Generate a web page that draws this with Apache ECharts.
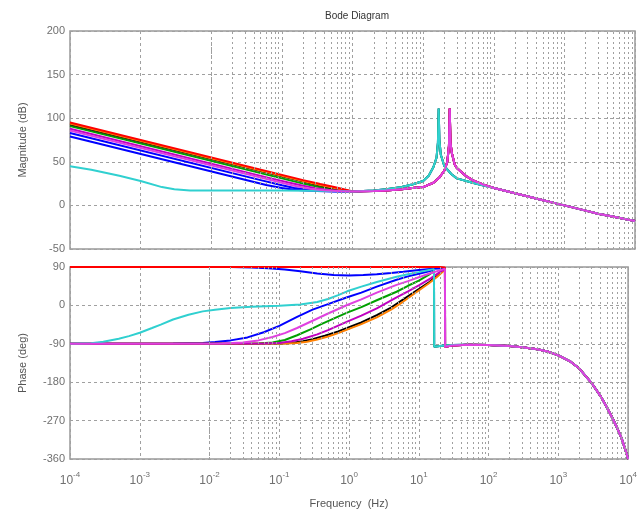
<!DOCTYPE html>
<html>
<head>
<meta charset="utf-8">
<script src="https://cdn.jsdelivr.net/npm/echarts@6/dist/echarts.min.js"></script>
<style>
  html, body { margin: 0; padding: 0; background: #fff; }
  #chart { width: 640px; height: 517px; }
</style>
</head>
<body>
<div id="chart"></div>
<script>
// decade tick values on the frequency axis (Hz)
var decades = [1e-4, 1e-3, 1e-2, 1e-1, 1, 10, 100, 1000, 10000];
var magTicks = [-50, 0, 50, 100, 150, 200];
var phaseTicks = [-360, -270, -180, -90, 0, 90];

// magnitude (dB), shared high-frequency parts
var magTailA = [[1, 16], [2, 17], [3, 18.5], [5, 21], [7, 24], [10, 28], [12, 34], [14, 44], [15.5, 55], [16.2, 72], [16.6, 111], [17, 75], [17.8, 58], [20, 45], [25, 36], [30, 31], [50, 26], [100, 20], [200, 14], [500, 6], [1000, 0], [2000, -6], [3000, -9.5], [5000, -13], [10000, -18]];
var magTailB = [[1, 16], [2, 16.5], [3, 17], [5, 18.5], [7, 20], [10, 21], [14, 26], [17, 32], [20, 40], [22, 50], [23.2, 68], [23.8, 111], [24.4, 72], [25.5, 60], [28, 47], [30, 43], [40, 34], [50, 29], [70, 24], [100, 20], [200, 14], [500, 6], [1000, 0], [2000, -6], [3000, -9.5], [5000, -13], [10000, -18]];

// magnitude (dB), low-frequency parts of each response
var magBlue1 = [[1e-4, 79], [0.03, 29.5], [0.06, 23.5], [0.1, 20], [0.15, 18], [0.25, 16.8], [0.5, 16]];
var magBlue2 = [[1e-4, 83], [0.05, 29], [0.1, 23], [0.15, 20], [0.25, 17.8], [0.4, 16.8], [0.7, 16]];
var magGreen = [[1e-4, 91], [0.1, 31], [0.2, 25], [0.3, 21.8], [0.45, 19], [0.7, 17], [0.9, 16.3]];
var magBlack = [[1e-4, 93], [0.15, 30], [0.3, 24], [0.45, 20.8], [0.65, 18.3], [0.9, 16.5]];
var magOrange = [[1e-4, 94], [0.2, 28], [0.35, 23.5], [0.5, 20.8], [0.7, 18.3], [0.9, 16.5]];
var magRed = [[1e-4, 95], [0.2, 29], [0.35, 24.5], [0.55, 21], [0.75, 18.5], [0.95, 16.5]];
var magMagenta1 = [[1e-4, 88], [0.07, 31], [0.12, 26.5], [0.2, 22.5], [0.3, 19.8], [0.5, 17.5], [0.8, 16.3]];
var magCyan = [[1e-4, 45], [2e-4, 41], [5e-4, 34], [1e-3, 28], [2e-3, 21], [3e-3, 18.5], [5e-3, 17], [0.1, 17], [0.5, 16.5]];
var magMagenta2 = [[1e-4, 86], [0.05, 32], [0.1, 26], [0.15, 22.5], [0.25, 19], [0.4, 17.3], [0.7, 16.3]];

// phase (deg), shared parts after the jump at each resonance
var phaseTailA = [[16.6, -97], [20, -95], [30, -93], [50, -92], [100, -93], [200, -95], [300, -98], [500, -103], [700, -108], [1000, -117], [1500, -132], [2000, -148], [3000, -182], [4000, -212], [5000, -240], [6000, -265], [7000, -288], [8000, -310], [9000, -335], [10000, -360]];
var phaseTailB = [[23.8, -97], [30, -94], [50, -92], [100, -93], [200, -95], [300, -98], [500, -103], [700, -108], [1000, -117], [1500, -132], [2000, -148], [3000, -182], [4000, -212], [5000, -240], [6000, -265], [7000, -288], [8000, -310], [9000, -335], [10000, -360]];

// phase (deg), parts before the jump
var phBlue1 = [[1e-4, -90], [0.003, -89.5], [0.008, -88], [0.012, -86], [0.02, -82], [0.035, -75], [0.06, -63], [0.1, -48], [0.18, -27], [0.3, -10], [0.5, 3], [0.94, 19], [1.5, 30], [2.5, 44], [4.8, 60], [7, 68], [10, 74], [14, 80], [16.5, 84]];
var phBlue2 = [[1e-4, 90], [0.02, 90], [0.04, 89], [0.07, 87], [0.12, 84], [0.2, 80], [0.35, 75], [0.6, 71], [1, 70], [1.6, 71], [2.5, 73], [4, 76], [6, 79], [10, 83], [16, 86], [23.7, 87]];
var phGreen = [[1e-4, -90], [0.05, -89.5], [0.08, -87], [0.12, -81], [0.18, -70], [0.28, -56], [0.4, -44], [0.6, -31], [0.94, -17], [1.5, -4], [2.5, 12], [4.8, 32], [7, 46], [10, 58], [14, 72], [16.5, 80]];
var phBlack = [[1e-4, -90], [0.1, -89.5], [0.15, -88], [0.22, -84], [0.3, -79], [0.45, -71], [0.7, -61], [1, -51], [1.5, -40], [2.5, -23], [4, -5], [6, 14], [10, 38], [14, 54], [18, 68], [21, 78], [23.7, 84]];
var phOrange = [[1e-4, -90], [0.12, -89.5], [0.18, -88], [0.25, -85], [0.35, -80], [0.5, -73], [0.7, -65], [1, -55], [1.5, -44], [2.5, -28], [4, -10], [6, 9], [10, 35], [14, 52], [18, 66], [21, 76], [23.7, 84]];
var phRed = [[1e-4, 90], [10, 90], [20, 90], [23.7, 89]];
var phMagenta1 = [[1e-4, -90], [0.06, -89.5], [0.1, -88], [0.15, -84], [0.22, -78], [0.35, -68], [0.5, -58], [0.94, -38], [1.5, -24], [2.5, -7], [4.8, 19], [7, 33], [10, 47], [15, 64], [20, 78], [23.7, 85]];
var phCyan = [[1e-4, -90], [2e-4, -88.5], [3e-4, -85], [5e-4, -78], [7e-4, -72], [1e-3, -64], [1.5e-3, -53], [2e-3, -45], [3e-3, -33], [5e-3, -22], [8e-3, -14], [0.012, -10], [0.02, -6], [0.04, -3], [0.1, -1], [0.2, 2], [0.35, 8], [0.5, 15], [0.7, 24], [0.94, 33], [1.5, 44], [2.5, 55], [4.8, 67], [7, 73], [10, 78], [14, 83], [16.5, 85]];
var phMagenta2 = [[1e-4, -90], [0.015, -89.5], [0.03, -87], [0.05, -82], [0.08, -74], [0.12, -65], [0.18, -53], [0.3, -36], [0.5, -19], [0.94, 1], [1.5, 14], [2.5, 30], [4.8, 48], [7, 57], [10, 66], [15, 76], [20, 82], [23.7, 86]];

var curves = [
  { color: '#0000ff', mag: magBlue1.concat(magTailA), ph: phBlue1.concat(phaseTailA) },
  { color: '#0000ff', mag: magBlue2.concat(magTailB), ph: phBlue2.concat(phaseTailB) },
  { color: '#00a000', mag: magGreen.concat(magTailA), ph: phGreen.concat(phaseTailA) },
  { color: '#000000', mag: magBlack.concat(magTailB), ph: phBlack.concat(phaseTailB) },
  { color: '#ff8000', mag: magOrange.concat(magTailB), ph: phOrange.concat(phaseTailB) },
  { color: '#ff0000', mag: magRed.concat(magTailB), ph: phRed.concat(phaseTailB) },
  { color: '#c000c0', mag: magMagenta1.concat(magTailB), ph: phMagenta1.concat(phaseTailB) },
  { color: '#30d0d0', mag: magCyan.concat(magTailA), ph: phCyan.concat(phaseTailA) },
  { color: '#e040e0', mag: magMagenta2.concat(magTailB), ph: phMagenta2.concat(phaseTailB) }
];

// minor grid positions 2..9 in each decade
var minorFreqs = [];
for (var d = 0; d < decades.length - 1; d++) {
  for (var k = 2; k <= 9; k++) minorFreqs.push(k * decades[d]);
}

var gridColor = '#a0a0a0';
var labelColor = '#707070';
var fontFam = 'Liberation Sans, Arial, sans-serif';

function xAxisFor(idx, showLabels) {
  return {
    type: 'log', logBase: 10, gridIndex: idx, min: 1e-4, max: 1e4,
    axisLine: { show: false },
    axisTick: { show: false },
    splitLine: { show: true, lineStyle: { color: gridColor, type: [3, 3], width: 1 } },
    axisLabel: {
      show: showLabels, margin: 8, color: labelColor, fontFamily: fontFam,
      formatter: function (v) {
        var e = Math.round(Math.log(v) / Math.LN10);
        return '{b|10}{e|' + e + '}';
      },
      rich: {
        b: { fontSize: 12, color: labelColor, fontFamily: fontFam, padding: [8, 0, 0, 0] },
        e: { fontSize: 8, color: labelColor, fontFamily: fontFam, padding: [0, 0, 4, 0] }
      }
    },
    name: showLabels ? 'Frequency  (Hz)' : '',
    nameLocation: 'middle', nameGap: 39,
    nameTextStyle: { fontSize: 11, color: '#555', fontFamily: fontFam }
  };
}

function yAxisFor(idx, name, min, max, step) {
  return {
    type: 'value', gridIndex: idx, min: min, max: max, interval: step,
    axisLine: { show: false },
    axisTick: { show: false },
    splitLine: { show: true, lineStyle: { color: gridColor, type: [3, 3], width: 1 } },
    axisLabel: { color: labelColor, fontSize: 11, fontFamily: fontFam, margin: 5 },
    name: name, nameLocation: 'middle', nameGap: 42,
    nameTextStyle: { fontSize: 11, color: '#555', fontFamily: fontFam }
  };
}

var series = [];
[0, 1].forEach(function (g) {
  series.push({
    type: 'line', xAxisIndex: g, yAxisIndex: g, data: [], silent: true,
    markLine: {
      silent: true, symbol: 'none', animation: false,
      label: { show: false },
      lineStyle: { color: gridColor, type: [2, 3], width: 1 },
      data: minorFreqs.map(function (f) { return { xAxis: f }; })
    }
  });
});
curves.forEach(function (c) {
  series.push({
    type: 'line', xAxisIndex: 0, yAxisIndex: 0, data: c.mag,
    showSymbol: false, smooth: false,
    lineStyle: { color: c.color, width: 2 }, itemStyle: { color: c.color }
  });
  series.push({
    type: 'line', xAxisIndex: 1, yAxisIndex: 1, data: c.ph,
    showSymbol: false, smooth: false,
    lineStyle: { color: c.color, width: 2 }, itemStyle: { color: c.color }
  });
});

var chart = echarts.init(document.getElementById('chart'));
chart.setOption({
  animation: false,
  backgroundColor: '#fff',
  title: {
    text: 'Bode Diagram', left: 352, top: 6, textAlign: 'center',
    textStyle: { fontSize: 10, fontWeight: 'normal', color: '#333', fontFamily: fontFam }
  },
  grid: [
    { left: 70, top: 31, width: 565, height: 218, show: true, borderColor: '#999', borderWidth: 1.5, backgroundColor: 'transparent' },
    { left: 70, top: 267, width: 565, height: 192, show: true, borderColor: '#999', borderWidth: 1.5, backgroundColor: 'transparent' }
  ],
  xAxis: [xAxisFor(0, false), xAxisFor(1, true)],
  yAxis: [
    yAxisFor(0, 'Magnitude (dB)', magTicks[0], magTicks[magTicks.length - 1], 50),
    yAxisFor(1, 'Phase (deg)', phaseTicks[0], phaseTicks[phaseTicks.length - 1], 90)
  ],
  series: series
});
</script>
</body>
</html>
